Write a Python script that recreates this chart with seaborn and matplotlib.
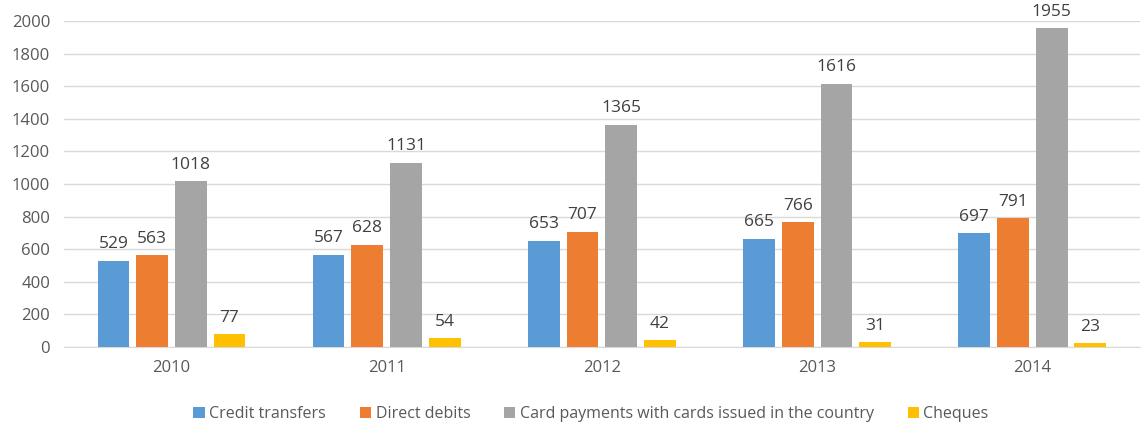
import pandas as pd
import matplotlib
matplotlib.use('Agg')
import matplotlib.pyplot as plt
import seaborn as sns

years = ['2010', '2011', '2012', '2013', '2014']
series = ['Credit transfers', 'Direct debits',
          'Card payments with cards issued in the country', 'Cheques']
credit_transfers = [529, 567, 653, 665, 697]
direct_debits = [563, 628, 707, 766, 791]
card_payments = [1018, 1131, 1365, 1616, 1955]
cheques = [77, 54, 42, 31, 23]
colors = ['#5B9BD5', '#ED7D31', '#A5A5A5', '#FFC000']

rows = []
for name, vals in zip(series, [credit_transfers, direct_debits, card_payments, cheques]):
    for y, v in zip(years, vals):
        rows.append({'Year': y, 'Series': name, 'Value': v})
df = pd.DataFrame(rows)

sns.set_style('white')
plt.rcParams['font.family'] = ['Open Sans', 'DejaVu Sans']

fig = plt.figure(figsize=(11.41, 4.25), dpi=100)
ax = fig.add_axes([0.056, 0.1835, 0.943, 0.767])

sns.barplot(data=df, x='Year', y='Value', hue='Series', hue_order=series,
            palette=colors, width=0.72, gap=0.18, ax=ax, legend=True,
            saturation=1, linewidth=0, zorder=3)

for cont in ax.containers:
    ax.bar_label(cont, padding=6, fontsize=12.5, color='#404040')

ax.set_ylim(0, 2000)
ax.set_xlim(-0.5, 4.5)
ax.set_yticks(range(0, 2001, 200))
ax.yaxis.grid(True, color='#D9D9D9', linewidth=1, zorder=0)
ax.set_axisbelow(True)
ax.set_xlabel('')
ax.set_ylabel('')
ax.tick_params(axis='both', length=0, labelsize=12, labelcolor='#595959')
ax.tick_params(axis='x', pad=9)
ax.tick_params(axis='y', pad=10)
for s in ['top', 'right', 'left']:
    ax.spines[s].set_visible(False)
ax.spines['bottom'].set_color('#D9D9D9')

handles, labels = ax.get_legend_handles_labels()
ax.legend(handles, labels, loc='center', bbox_to_anchor=(0.49, -0.205),
          ncol=4, frameon=False, fontsize=11.5, handlelength=0.7,
          handleheight=0.7, handletextpad=0.3, columnspacing=2.1,
          labelcolor='#595959')

fig.savefig('out.png', dpi=100)
